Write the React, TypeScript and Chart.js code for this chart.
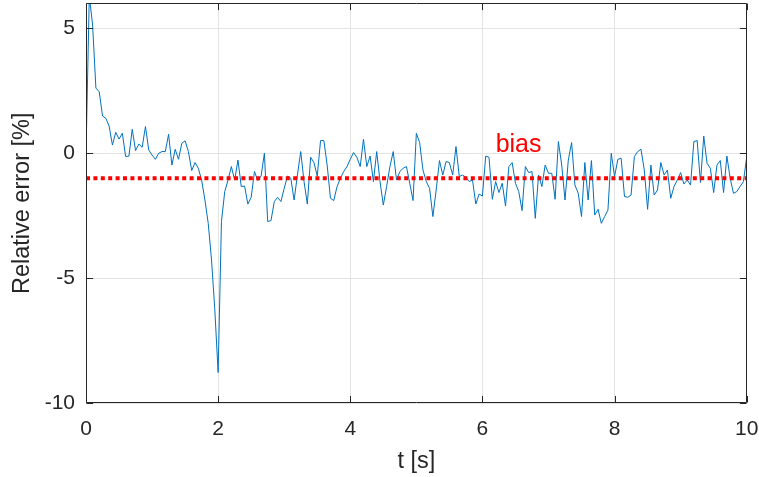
import React, { useEffect, useRef } from "react";
import { Chart, registerables } from "chart.js";

Chart.register(...registerables);

// Sampling interval of the recorded signal, seconds
const SAMPLE_STEP_S = 0.05;

// Relative error [%], one value per sample from t = 0 s to t = 10 s
const RELATIVE_ERROR = [
  0, 6.3, 5.13, 2.6, 2.47, 1.49, 1.4, 1.09, 0.33, 0.84, 0.57, 0.8, -0.13, -0.11, 0.96, 0.11, 0.37, 0.24, 1.07, 0.13,
  -0.07, -0.24, 0, 0.07, 0.07, 0.76, -0.47, 0.16, -0.24, 0.4, 0.5, 0.07, -0.69, -0.37, -0.6, -1.07, -1.87, -2.8, -4.27, -6.27,
  -8.77, -2.73, -1.53, -1.07, -0.53, -1.07, -0.27, -1.33, -1.31, -2.03, -1.76, -0.73, -1.09, -0.91, 0, -2.73, -2.69, -1.93, -1.76, -1.93,
  -1.4, -0.91, -1.0, -1.87, -0.87, 0.07, -1.13, -2.03, -0.16, -0.37, -0.91, 0.51, 0.51, -0.47, -1.8, -1.89, -1.33, -1.0, -0.73, -0.53,
  -0.24, 0.03, -0.16, -0.53, 0.56, -0.53, -0.11, -1.13, 0.07, -1.13, -2.07, -1.33, -0.53, 0.07, -1.07, -0.73, -0.6, -0.53, -1.2, -1.89,
  0.8, 0.43, -0.67, -1.13, -1.4, -2.53, -1.47, -0.29, -0.87, -0.33, -0.37, -0.87, 0.27, -0.93, -0.87, -0.96, -1.13, -1.07, -2.03, -1.63,
  -1.71, -0.11, -0.16, -1.84, -1.13, -1.57, -1.2, -2.11, -0.53, -0.37, -1.2, -1.53, -2.29, -0.53, -0.77, -0.73, -2.6, -0.87, -1.33, -0.47,
  -0.8, -0.8, -1.84, 0.47, -0.47, -1.87, -0.27, 0.43, -1.27, -1.6, -2.53, -0.37, -1.87, -0.29, -2.47, -2.24, -2.8, -2.53, -2.27, 0,
  -0.93, -0.24, -0.2, -1.73, -1.76, -1.67, -0.13, 0.07, 0.16, -0.67, -2.24, -0.47, -1.67, -1.47, -0.37, -0.87, -0.67, -1.8, -1.33, -1.07,
  -0.77, -1.23, -1.07, -1.27, 0.47, 0.51, -1.17, 0.69, -0.4, -0.6, -1.57, -0.47, -0.29, -1.57, -0.11, -1.0, -1.6, -1.53, -1.33, -1.13,
  -0.16,
];

const BIAS_VALUE = -1;
const BIAS_SPAN = [0, 10];
const BIAS_LABEL = "bias";
const BIAS_LABEL_AT = [6.2, 0.05];

const X_TICKS = [0, 2, 4, 6, 8, 10];
const Y_TICKS = [-10, -5, 0, 5];
const X_RANGE = [0, 10];
const Y_RANGE = [-10, 6];

const X_TITLE = "t [s]";
const Y_TITLE = "Relative error [%]";

const FONT = "'Liberation Sans', Arial, Helvetica, sans-serif";
const AXIS_COLOR = "#262626";
const GRID_COLOR = "#e3e3e3";
const LINE_COLOR = "#0072BD";
const BIAS_COLOR = "#ff0000";

const framePlugin = {
  id: "matlabFrame",
  afterDatasetsDraw(chart: any) {
    const { ctx, scales } = chart;
    const x = scales.x;
    const y = scales.y;
    ctx.save();
    ctx.fillStyle = BIAS_COLOR;
    ctx.font = `25px ${FONT}`;
    ctx.textAlign = "left";
    ctx.textBaseline = "alphabetic";
    ctx.fillText(BIAS_LABEL, x.getPixelForValue(BIAS_LABEL_AT[0]), y.getPixelForValue(BIAS_LABEL_AT[1]));
    ctx.restore();
  },
  afterDraw(chart: any) {
    const { ctx, chartArea: a, scales } = chart;
    const l = Math.round(a.left) + 0.5;
    const r = Math.round(a.right) - 0.5;
    const t = Math.round(a.top) + 0.5;
    const b = Math.round(a.bottom) - 0.5;
    const tick = 6.6;
    ctx.save();
    ctx.strokeStyle = AXIS_COLOR;
    ctx.lineWidth = 1;
    ctx.beginPath();
    ctx.rect(l, t, r - l, b - t);
    for (const v of X_TICKS) {
      const px = Math.round(scales.x.getPixelForValue(v)) + 0.5;
      ctx.moveTo(px, b);
      ctx.lineTo(px, b - tick);
      ctx.moveTo(px, t);
      ctx.lineTo(px, t + tick);
    }
    for (const v of Y_TICKS) {
      const py = Math.round(scales.y.getPixelForValue(v)) + 0.5;
      ctx.moveTo(l, py);
      ctx.lineTo(l + tick, py);
      ctx.moveTo(r, py);
      ctx.lineTo(r - tick, py);
    }
    ctx.stroke();
    ctx.restore();
  },
};

const zeroPadding = (s: any) => {
  s.paddingTop = 0;
  s.paddingBottom = 0;
  s.paddingLeft = 0;
  s.paddingRight = 0;
};

export default function App() {
  const canvasRef = useRef<HTMLCanvasElement | null>(null);

  useEffect(() => {
    const canvas = canvasRef.current;
    if (!canvas) return;
    const errorPoints = RELATIVE_ERROR.map((v, i) => ({ x: i * SAMPLE_STEP_S, y: v }));
    const biasPoints = BIAS_SPAN.map((t) => ({ x: t, y: BIAS_VALUE }));

    const chart = new Chart(canvas, {
      type: "line",
      data: {
        datasets: [
          {
            data: biasPoints,
            borderColor: BIAS_COLOR,
            borderWidth: 4,
            borderDash: [4, 3.4],
            pointRadius: 0,
            fill: false,
            clip: 0,
          },
          {
            data: errorPoints,
            borderColor: LINE_COLOR,
            borderWidth: 1,
            pointRadius: 0,
            tension: 0,
            fill: false,
            clip: 0,
          },
        ],
      },
      options: {
        responsive: false,
        animation: false,
        events: [],
        layout: { padding: { top: 3.3, right: 12.3, left: 0, bottom: 0 } },
        plugins: {
          legend: { display: false },
          tooltip: { enabled: false },
          title: { display: false },
        },
        scales: {
          x: {
            type: "linear",
            min: X_RANGE[0],
            max: X_RANGE[1],
            afterBuildTicks: (s: any) => {
              s.ticks = X_TICKS.map((v) => ({ value: v }));
            },
            afterFit: (s: any) => {
              s.height = 73.7;
              zeroPadding(s);
            },
            grid: { color: GRID_COLOR, drawTicks: false, lineWidth: 1 },
            border: { display: false },
            ticks: {
              color: AXIS_COLOR,
              font: { family: FONT, size: 21, lineHeight: 1.2 },
              padding: 13,
              maxRotation: 0,
              autoSkip: false,
            },
            title: {
              display: true,
              text: X_TITLE,
              color: AXIS_COLOR,
              font: { family: FONT, size: 23.5, lineHeight: 1.2 },
              padding: { top: 0, bottom: 1 },
            },
          },
          y: {
            type: "linear",
            min: Y_RANGE[0],
            max: Y_RANGE[1],
            afterBuildTicks: (s: any) => {
              s.ticks = Y_TICKS.map((v) => ({ value: v }));
            },
            afterFit: (s: any) => {
              s.width = 86;
              zeroPadding(s);
            },
            grid: { color: GRID_COLOR, drawTicks: false, lineWidth: 1 },
            border: { display: false },
            ticks: {
              color: AXIS_COLOR,
              font: { family: FONT, size: 21, lineHeight: 1.2 },
              padding: 11,
              autoSkip: false,
            },
            title: {
              display: true,
              text: Y_TITLE,
              color: AXIS_COLOR,
              font: { family: FONT, size: 23.5, lineHeight: 1.2 },
              padding: { top: 8, bottom: 0 },
            },
          },
        },
      },
      plugins: [framePlugin],
    });

    return () => chart.destroy();
  }, []);

  return (
    <div style={{ position: "absolute", left: 0, top: 0, width: 759, height: 477, background: "#ffffff" }}>
      <canvas ref={canvasRef} width={759} height={477} style={{ display: "block" }} />
    </div>
  );
}
